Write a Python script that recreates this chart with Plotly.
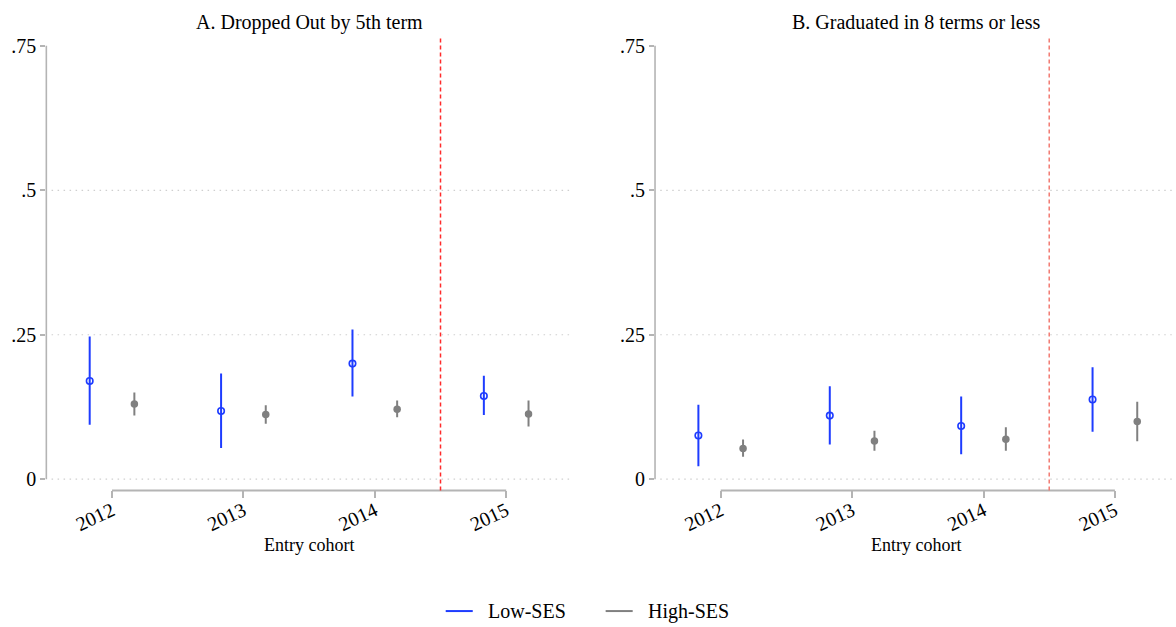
import plotly.graph_objects as go

# ---------------- data ----------------
cohorts = [2012, 2013, 2014, 2015]

# Panel A: Dropped out by 5th term
a_low_pt = [0.170, 0.118, 0.200, 0.144]
a_low_lo = [0.094, 0.054, 0.143, 0.111]
a_low_hi = [0.247, 0.183, 0.259, 0.179]
a_high_pt = [0.130, 0.112, 0.121, 0.113]
a_high_lo = [0.110, 0.096, 0.107, 0.091]
a_high_hi = [0.150, 0.128, 0.136, 0.136]

# Panel B: Graduated in 8 terms or less
b_low_pt = [0.0755, 0.110, 0.092, 0.138]
b_low_lo = [0.0225, 0.060, 0.043, 0.082]
b_low_hi = [0.129, 0.161, 0.143, 0.1935]
b_high_pt = [0.053, 0.066, 0.069, 0.0997]
b_high_lo = [0.039, 0.049, 0.049, 0.0657]
b_high_hi = [0.0686, 0.084, 0.090, 0.134]

titles = ["A. Dropped Out by 5th term", "B. Graduated in 8 terms or less"]
series_names = ["Low-SES", "High-SES"]
y_ticks = [0, 0.25, 0.5, 0.75]
y_ticktext = ["0", ".25", ".5", ".75"]
grid_vals = [0, 0.25, 0.5]
policy_break = 2014.5
offset = 0.17

BLUE = "#1e3cff"
GRAY = "#808080"
AXIS = "#b4b4b4"
FONT = "'Liberation Serif', 'Times New Roman', Times, serif"

fig = go.Figure()

panels = [
    (a_low_pt, a_low_lo, a_low_hi, a_high_pt, a_high_lo, a_high_hi, "x", "y"),
    (b_low_pt, b_low_lo, b_low_hi, b_high_pt, b_high_lo, b_high_hi, "x2", "y2"),
]

for (lp, ll, lh, hp, hl, hh, xa, ya) in panels:
    fig.add_trace(go.Scatter(
        x=[c - offset for c in cohorts], y=lp, mode="markers", name=series_names[0],
        marker=dict(symbol="circle-open", size=6.5, color=BLUE, line=dict(width=1.6, color=BLUE)),
        error_y=dict(type="data", symmetric=False,
                     array=[h - p for h, p in zip(lh, lp)],
                     arrayminus=[p - l for p, l in zip(lp, ll)],
                     color=BLUE, thickness=2, width=0),
        showlegend=False, xaxis=xa, yaxis=ya, hoverinfo="skip"))
    fig.add_trace(go.Scatter(
        x=[c + offset for c in cohorts], y=hp, mode="markers", name=series_names[1],
        marker=dict(symbol="circle", size=7.5, color=GRAY),
        error_y=dict(type="data", symmetric=False,
                     array=[h - p for h, p in zip(hh, hp)],
                     arrayminus=[p - l for p, l in zip(hp, hl)],
                     color=GRAY, thickness=2, width=0),
        showlegend=False, xaxis=xa, yaxis=ya, hoverinfo="skip"))

x_range_a = [2011.5, 2015.5]
x_range_b = [2011.5, 2015.465]
y_range = [-0.0195, 0.7655]

common_x = dict(tickvals=cohorts, ticktext=[str(c) for c in cohorts], tickangle=-25,
                ticks="outside", ticklen=7, tickwidth=1.5, tickcolor=AXIS,
                ticklabelstandoff=-7,
                showline=False, showgrid=False, zeroline=False,
                tickfont=dict(family=FONT, size=20, color="black"))
common_y = dict(range=y_range, tickvals=y_ticks, ticktext=y_ticktext,
                ticks="outside", ticklen=5, tickwidth=1.5, tickcolor=AXIS,
                showline=False, showgrid=False, zeroline=False,
                tickfont=dict(family=FONT, size=20, color="black"))

fig.update_layout(
    width=1176, height=627,
    margin=dict(l=0, r=0, t=0, b=0),
    paper_bgcolor="white", plot_bgcolor="white",
    showlegend=False,
    xaxis=dict(domain=[0.0394, 0.4863], range=x_range_a, anchor="y", **common_x),
    yaxis=dict(domain=[0.2185, 0.9442], anchor="x", **common_y),
    xaxis2=dict(domain=[0.557, 1.0], range=x_range_b, anchor="y2", **common_x),
    yaxis2=dict(domain=[0.2185, 0.9442], anchor="x2", **common_y),
    font=dict(family=FONT, color="black"),
)

shapes = []
annotations = []
red_colors = ["#ff2a2a", "#f27a72"]
for i, (xa, ya) in enumerate([("x", "y"), ("x2", "y2")]):
    for g in grid_vals:
        shapes.append(dict(type="line", xref=f"{xa} domain", x0=0.01, x1=1,
                           yref=ya, y0=g, y1=g,
                           line=dict(color="#cfcfcf", width=1.2, dash="1.5px,4.5px"),
                           layer="below"))
    # y axis line (0 to .75)
    shapes.append(dict(type="line", xref=f"{xa} domain", x0=0, x1=0,
                       yref=ya, y0=y_ticks[0], y1=y_ticks[-1],
                       line=dict(color=AXIS, width=1.6)))
    # x axis line (first to last cohort)
    shapes.append(dict(type="line", xref=xa, x0=cohorts[0], x1=cohorts[-1],
                       yref=f"{ya} domain", y0=0, y1=0,
                       line=dict(color=AXIS, width=2)))
    # policy break line
    shapes.append(dict(type="line", xref=xa, x0=policy_break, x1=policy_break,
                       yref=f"{ya} domain", y0=0, y1=1,
                       line=dict(color=red_colors[i], width=1.5, dash="4px,3px")))
    annotations.append(dict(text=titles[i], xref=f"{xa} domain", x=0.5, yref="paper",
                            y=0.968, showarrow=False, xanchor="center", yanchor="middle",
                            font=dict(family=FONT, size=20, color="black")))
    annotations.append(dict(text="Entry cohort", xref=f"{xa} domain", x=0.5, yref="paper",
                            y=0.1308, showarrow=False, xanchor="center", yanchor="middle",
                            font=dict(family=FONT, size=18, color="black")))

# legend (drawn as key lines + labels, in paper coordinates)
legend_colors = [BLUE, GRAY]
legend_key_x = [0.379, 0.515]   # left end of each key line (paper)
key_len = 0.023
legend_y = 0.0255
for name, col, kx in zip(series_names, legend_colors, legend_key_x):
    shapes.append(dict(type="line", xref="paper", yref="paper",
                       x0=kx, x1=kx + key_len, y0=legend_y, y1=legend_y,
                       line=dict(color=col, width=2)))
    annotations.append(dict(text=name, xref="paper", yref="paper",
                            x=kx + key_len + 0.0115, y=legend_y, showarrow=False,
                            xanchor="left", yanchor="middle",
                            font=dict(family=FONT, size=20, color="black")))

fig.update_layout(shapes=shapes, annotations=annotations)

fig.write_html("out.html")
